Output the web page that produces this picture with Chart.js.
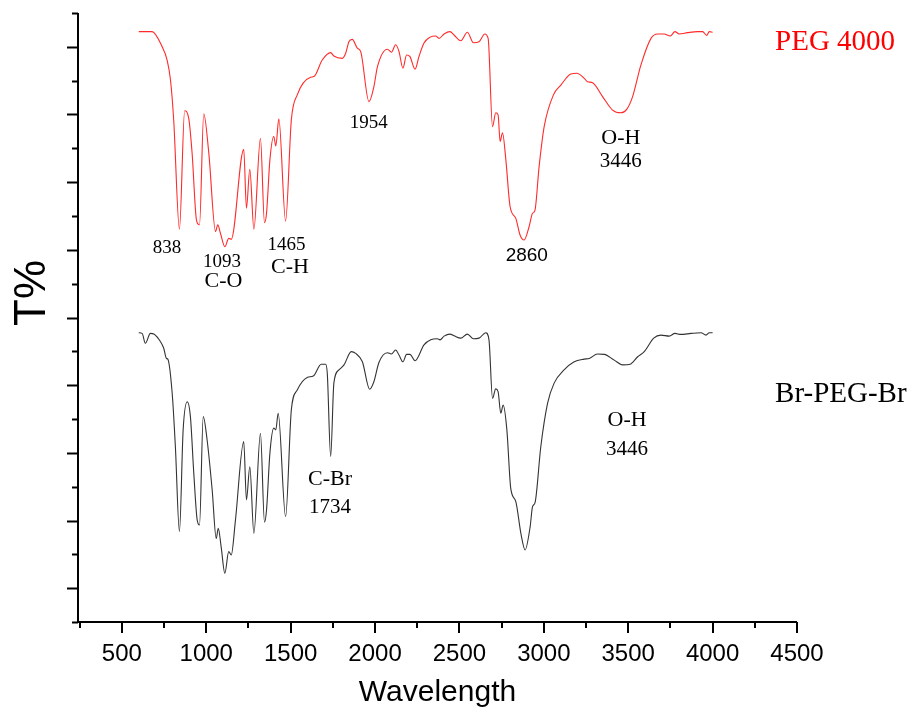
<!DOCTYPE html>
<html>
<head>
<meta charset="utf-8">
<script src="https://cdn.jsdelivr.net/npm/chart.js@4"></script>
<style>
  body { margin: 0; background: #fff; }
  canvas { display: block; }
</style>
</head>
<body>
<canvas id="irChart" width="912" height="707"></canvas>
<script>
// PEG 4000 spectrum (wavenumber, T% offset units)
const pegX = [600, 679, 738, 768, 788, 807, 841, 872, 896, 916, 942, 960, 985, 1015, 1055, 1068, 1084, 1110, 1133, 1148,
  1222, 1238, 1258, 1282, 1321, 1345, 1357, 1377, 1400, 1412, 1430, 1470, 1504, 1539, 1618, 1638, 1687, 1737, 1756, 1806,
  1826, 1845, 1865, 1895, 1915, 1964, 1993, 2014, 2073, 2097, 2122, 2142, 2165, 2187, 2207, 2237, 2260, 2290, 2324, 2359,
  2379, 2409, 2444, 2468, 2508, 2547, 2583, 2616, 2650, 2670, 2696, 2715, 2729, 2741, 2755, 2775, 2800, 2834, 2859, 2883,
  2913, 2933, 2947, 2972, 3002, 3057, 3101, 3160, 3196, 3239, 3259, 3289, 3348, 3407, 3457, 3492, 3526, 3575, 3635, 3674,
  3713, 3749, 3777, 3802, 3852, 3911, 3941, 3965, 3980, 4000];
const pegT = [174.5, 174.5, 170.1, 166.1, 160.2, 148.4, 116.1, 151.1, 148.9, 138.6, 118.8, 117.4, 150.2, 138.6, 115.4, 117.4, 114.9, 110.9, 113.4, 113.1,
  139.7, 122.3, 133.8, 116.1, 143.0, 118.0, 120.8, 136.6, 143.5, 140.7, 148.7, 118.5, 148.4, 155.8, 161.0, 161.2, 166.1, 168.3, 167.3, 166.6,
  168.1, 171.5, 172.2, 169.6, 168.6, 153.8, 158.2, 164.1, 169.3, 168.4, 170.6, 168.6, 163.7, 167.6, 167.1, 163.4, 167.1, 171.1, 172.8, 173.2,
  172.5, 173.8, 174.5, 173.5, 171.8, 174.3, 171.2, 171.5, 173.8, 172.5, 146.4, 150.5, 149.9, 142.0, 144.6, 136.6, 122.8, 119.3, 114.4, 112.9,
  116.9, 120.8, 121.6, 134.6, 146.4, 155.8, 158.7, 162.0, 162.2, 160.7, 159.7, 159.4, 155.3, 151.3, 150.5, 151.6, 155.3, 164.6, 172.5, 173.8,
  173.8, 173.2, 174.5, 173.8, 174.2, 174.5, 174.5, 173.4, 174.5, 174.3];

// Br-PEG-Br spectrum
const brX = [600, 620, 639, 669, 689, 728, 748, 764, 772, 798, 817, 841, 863, 887, 906, 926, 946, 960, 982, 1005,
  1035, 1059, 1071, 1088, 1110, 1133, 1148, 1173, 1222, 1238, 1258, 1282, 1321, 1345, 1357, 1377, 1400, 1412, 1426, 1470,
  1504, 1539, 1598, 1634, 1681, 1707, 1717, 1737, 1756, 1786, 1816, 1859, 1885, 1925, 1968, 1993, 2023, 2073, 2097, 2122,
  2142, 2165, 2187, 2207, 2237, 2290, 2330, 2369, 2385, 2409, 2444, 2468, 2508, 2547, 2583, 2616, 2656, 2675, 2696, 2715,
  2729, 2745, 2759, 2781, 2804, 2834, 2864, 2889, 2919, 2933, 2948, 2982, 3022, 3061, 3120, 3180, 3239, 3269, 3318, 3358,
  3417, 3467, 3512, 3556, 3595, 3651, 3694, 3743, 3777, 3812, 3872, 3931, 3961, 3980, 4000];
const brT = [85.5, 85.3, 82.4, 85.3, 85.1, 82.9, 80.9, 77.9, 77.7, 67.6, 51.8, 26.7, 56.8, 65.1, 60.7, 44.0, 30.2, 28.7, 60.7, 53.8,
  39.0, 24.7, 27.7, 22.3, 14.4, 20.8, 19.8, 30.2, 53.3, 36.1, 45.9, 26.2, 55.8, 29.5, 33.1, 49.9, 57.3, 56.8, 61.7, 31.1,
  62.7, 68.6, 72.3, 72.7, 76.2, 76.2, 73.5, 48.9, 70.6, 74.5, 76.0, 79.9, 79.4, 76.9, 68.8, 71.0, 76.7, 79.6, 79.2, 80.4,
  78.9, 76.9, 79.1, 79.1, 77.2, 81.9, 83.4, 83.7, 83.4, 84.5, 85.1, 84.6, 83.9, 85.1, 83.7, 83.9, 85.5, 83.4, 66.1, 68.9,
  68.1, 61.7, 64.1, 56.8, 39.5, 35.6, 26.2, 21.3, 28.2, 34.1, 35.3, 51.8, 64.6, 70.6, 74.5, 76.9, 77.7, 77.9, 79.2, 79.1,
  77.4, 76.0, 76.2, 78.4, 79.9, 83.9, 84.8, 84.5, 85.3, 85.0, 85.3, 85.5, 84.8, 85.5, 85.5];

const xTickLabels = [500, 1000, 1500, 2000, 2500, 3000, 3500, 4000, 4500];

// peak labels, placed in data units
const peakLabels = [
  { text: '838', x: 767, y: 110.5, size: 19 },
  { text: '1093', x: 1093, y: 106.3, size: 19 },
  { text: 'C-O', x: 1102, y: 100.8, size: 22 },
  { text: '1465', x: 1475, y: 111.5, size: 19 },
  { text: 'C-H', x: 1496, y: 104.9, size: 22 },
  { text: '1954', x: 1962, y: 147.4, size: 19 },
  { text: '2860', x: 2899, y: 108.1, size: 19, sans: true },
  { text: 'O-H', x: 3456, y: 143.1, size: 22 },
  { text: '3446', x: 3456, y: 136.0, size: 21 },
  { text: 'C-Br', x: 1733, y: 42.3, size: 22 },
  { text: '1734', x: 1733, y: 33.7, size: 21 },
  { text: 'O-H', x: 3493, y: 59.7, size: 22 },
  { text: '3446', x: 3493, y: 51.1, size: 21 }
];
const seriesLabels = [
  { text: 'PEG 4000', x: 4370, y: 171.4, color: '#ff0000' },
  { text: 'Br-PEG-Br', x: 4370, y: 67.2, color: '#000000' }
];

const toPoints = (xs, ys) => xs.map((x, i) => ({ x: x, y: ys[i] }));

// axes, ticks and all text are drawn here from the chart scales
const axisPlugin = {
  id: 'axisPlugin',
  afterDraw(chart) {
    const ctx = chart.ctx;
    const xs = chart.scales.x;
    const ys = chart.scales.y;
    const area = chart.chartArea;
    ctx.save();
    ctx.strokeStyle = '#000';
    ctx.fillStyle = '#000';
    ctx.lineWidth = 2;

    ctx.beginPath();
    ctx.moveTo(area.left, area.top);
    ctx.lineTo(area.left, area.bottom);
    ctx.lineTo(area.right, area.bottom);
    ctx.stroke();

    for (let v = 0; v <= 180; v += 10) {
      const py = Math.round(ys.getPixelForValue(v)) + 0.5;
      const len = (v / 10) % 2 === 1 ? 11 : 6;
      ctx.beginPath();
      ctx.moveTo(area.left, py);
      ctx.lineTo(area.left - len, py);
      ctx.stroke();
    }
    for (let v = 250; v <= 4500; v += 250) {
      const px = Math.round(xs.getPixelForValue(v));
      const len = v % 500 === 0 ? 11 : 6;
      ctx.beginPath();
      ctx.moveTo(px, area.bottom);
      ctx.lineTo(px, area.bottom + len);
      ctx.stroke();
    }

    ctx.font = '24px "Liberation Sans", Arial, sans-serif';
    ctx.textAlign = 'center';
    ctx.textBaseline = 'middle';
    xTickLabels.forEach(v => {
      ctx.fillText(String(v), xs.getPixelForValue(v), area.bottom + 32);
    });

    ctx.font = '30px "Liberation Sans", Arial, sans-serif';
    ctx.textBaseline = 'alphabetic';
    ctx.fillText('Wavelength', (area.left + area.right) / 2, 701);

    ctx.save();
    ctx.translate(45, 293);
    ctx.rotate(-Math.PI / 2);
    ctx.font = '44px "Liberation Sans", Arial, sans-serif';
    ctx.fillText('T%', 0, 0);
    ctx.restore();

    ctx.textBaseline = 'middle';
    peakLabels.forEach(l => {
      ctx.font = l.size + 'px ' + (l.sans ? '"Liberation Sans", Arial, sans-serif' : '"Liberation Serif", "Times New Roman", serif');
      ctx.fillText(l.text, xs.getPixelForValue(l.x), ys.getPixelForValue(l.y));
    });

    ctx.textAlign = 'left';
    ctx.font = '29px "Liberation Serif", "Times New Roman", serif';
    seriesLabels.forEach(l => {
      ctx.fillStyle = l.color;
      ctx.fillText(l.text, xs.getPixelForValue(l.x), ys.getPixelForValue(l.y));
    });
    ctx.restore();
  }
};

new Chart(document.getElementById('irChart').getContext('2d'), {
  type: 'line',
  data: {
    datasets: [
      {
        label: 'PEG 4000',
        data: toPoints(pegX, pegT),
        borderColor: '#ff2a2a',
        borderWidth: 1.1,
        pointRadius: 0,
        cubicInterpolationMode: 'monotone'
      },
      {
        label: 'Br-PEG-Br',
        data: toPoints(brX, brT),
        borderColor: '#333333',
        borderWidth: 1.1,
        pointRadius: 0,
        cubicInterpolationMode: 'monotone'
      }
    ]
  },
  options: {
    responsive: false,
    animation: false,
    layout: { padding: { left: 78, top: 13, right: 115, bottom: 85 } },
    plugins: { legend: { display: false }, tooltip: { enabled: false } },
    scales: {
      x: { type: 'linear', min: 240, max: 4500, display: false },
      y: { min: 0, max: 180, display: false }
    }
  },
  plugins: [axisPlugin]
});
</script>
</body>
</html>
